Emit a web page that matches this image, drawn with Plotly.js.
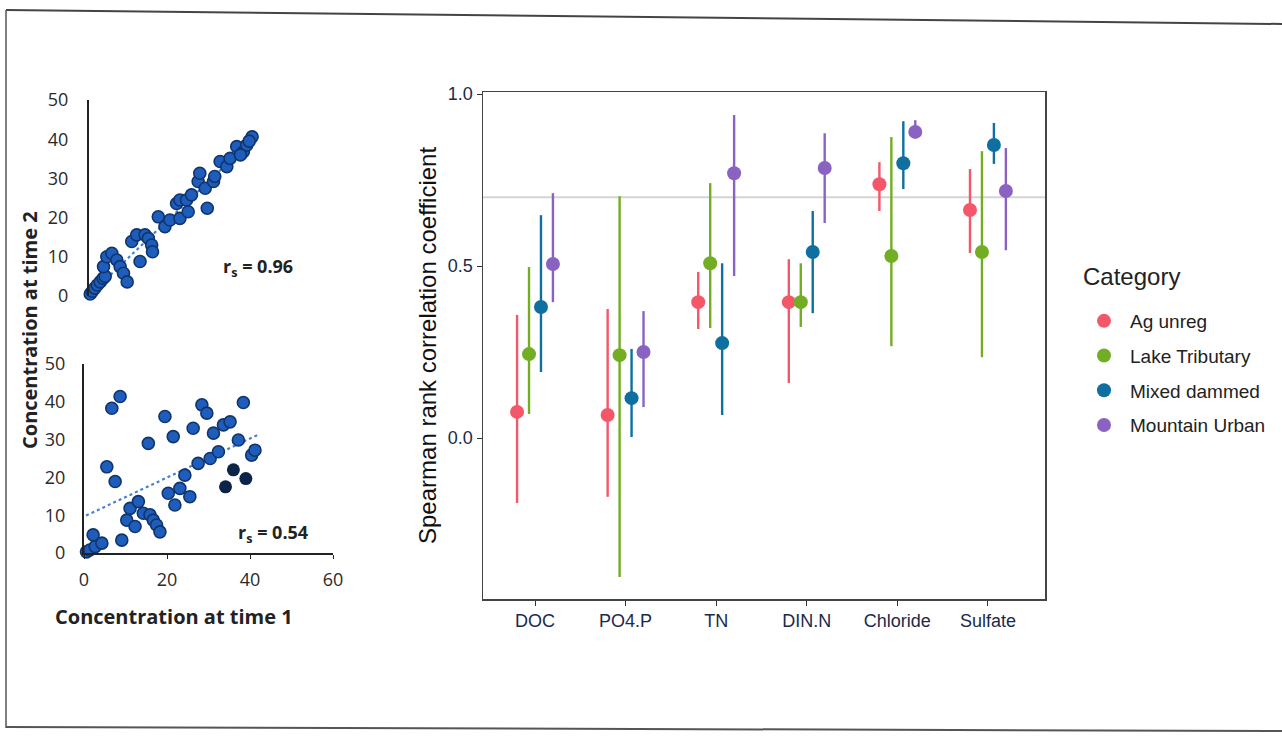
<!DOCTYPE html>
<html>
<head>
<meta charset="utf-8">
<script src="https://cdn.plot.ly/plotly-3.0.1.min.js"></script>
<style>html,body{margin:0;padding:0;background:#fff;}#chart{width:1282px;height:736px;}</style>
</head>
<body>
<div id="chart"></div>
<script>
// ---------- Left panels: concentration at time 1 vs time 2 ----------
const topX = [0.3,0.8,1.4,2.0,2.7,3.4,3.9,3.5,4.3,5.5,6.7,7.5,8.3,9.2,12.3,10.3,11.5,13.5,14.3,15.1,15.3,16.7,18.3,19.5,21.1,21.9,23.5,24.7,21.9,23.9,28.5,26.3,26.7,28.0,30.0,30.3,31.6,33.2,34.0,35.6,37.2,38.0,39.3,36.5,38.6];
const topY = [0.5,1.2,2.0,2.8,3.6,4.5,5.0,7.5,10.0,10.9,9.2,7.5,5.8,3.6,8.8,13.9,15.6,15.6,14.7,13.0,11.3,20.2,17.7,19.4,23.6,24.5,24.5,25.8,19.8,21.5,22.4,29.2,31.3,27.5,29.2,30.5,34.3,33.0,35.1,38.1,36.8,38.5,40.6,36.0,39.5];
const topTrendX = [1.0, 39.0];
const topTrendY = [1.2, 39.5];
const topRs = 'r<sub>s</sub> = 0.96';

const botX = [0.6,1.4,2.7,4.3,2.2,9.1,10.3,12.3,11.1,13.1,14.3,15.9,16.7,17.5,18.3,5.5,7.5,6.7,8.7,15.5,19.5,21.5,20.3,21.9,23.1,25.5,24.3,26.3,27.5,28.4,29.6,30.4,31.2,32.4,33.6,35.2,37.2,38.4,40.4,41.2];
const botY = [0.3,0.8,1.7,2.6,4.8,3.4,8.7,7.0,11.8,13.6,10.5,10.1,8.7,7.4,5.6,22.8,18.9,38.3,41.4,29.0,36.1,30.8,15.8,12.7,17.1,14.9,20.6,33.0,23.7,39.2,37.0,25.0,31.7,26.8,33.9,34.7,29.9,39.8,25.9,27.2];
const botDarkX = [36.0, 39.0, 34.1];
const botDarkY = [22.0, 19.7, 17.5];
const botTrendX = [0.5, 42.0];
const botTrendY = [9.9, 31.3];
const botRs = 'r<sub>s</sub> = 0.54';
const leftTicksY = [0,10,20,30,40,50];
const leftTicksX = [0,20,40,60];

// ---------- Right panel: Spearman rank correlation by category ----------
const categories = ['DOC','PO4.P','TN','DIN.N','Chloride','Sulfate'];
const seriesNames = ['Ag unreg','Lake Tributary','Mixed dammed','Mountain Urban'];
const agEst   = [0.076, 0.067, 0.395, 0.395, 0.738, 0.663];
const agLow   = [-0.189,-0.171,0.317, 0.160, 0.660, 0.538];
const agHigh  = [0.358, 0.375, 0.483, 0.520, 0.802, 0.782];
const lakeEst = [0.244, 0.241, 0.508, 0.395, 0.529, 0.541];
const lakeLow = [0.070,-0.404, 0.320, 0.323, 0.267, 0.235];
const lakeHigh= [0.497, 0.703, 0.741, 0.508, 0.875, 0.834];
const mixEst  = [0.381, 0.116, 0.276, 0.541, 0.799, 0.852];
const mixLow  = [0.192, 0.003, 0.067, 0.363, 0.724, 0.797];
const mixHigh = [0.648, 0.259, 0.508, 0.660, 0.921, 0.916];
const mtnEst  = [0.506, 0.250, 0.770, 0.785, 0.890, 0.718];
const mtnLow  = [0.395, 0.090, 0.471, 0.625, 0.875, 0.546];
const mtnHigh = [0.712, 0.369, 0.939, 0.886, 0.924, 0.843];
const refLine = 0.7;
const yTickVals = [0, 0.5, 1.0];
const yTickText = ['0.0','0.5','1.0'];
const legendTitle = 'Category';

const seriesColors = ['#F4566A','#73AD23','#0F6FA0','#8A63C2'];
const ests = [agEst, lakeEst, mixEst, mtnEst];
const lows = [agLow, lakeLow, mixLow, mtnLow];
const highs = [agHigh, lakeHigh, mixHigh, mtnHigh];
const dodge = 0.132;

const W = 1282, H = 736;
const px = v => v / W;
const py = v => 1 - v / H;

const traces = [];
const ptMarker = {size: 12, color: '#1f5dbd', line: {color: '#10356b', width: 1.6}};

traces.push({x: topTrendX, y: topTrendY, xaxis: 'x', yaxis: 'y', mode: 'lines',
  line: {color: '#4a7fd0', width: 2.2, dash: 'dot'}, showlegend: false, hoverinfo: 'skip'});
traces.push({x: topX, y: topY, xaxis: 'x', yaxis: 'y', mode: 'markers', marker: ptMarker,
  showlegend: false, cliponaxis: false});

traces.push({x: botTrendX, y: botTrendY, xaxis: 'x2', yaxis: 'y2', mode: 'lines',
  line: {color: '#4a7fd0', width: 2.2, dash: 'dot'}, showlegend: false, hoverinfo: 'skip'});
traces.push({x: botX, y: botY, xaxis: 'x2', yaxis: 'y2', mode: 'markers', marker: ptMarker,
  showlegend: false, cliponaxis: false});
traces.push({x: botDarkX, y: botDarkY, xaxis: 'x2', yaxis: 'y2', mode: 'markers',
  marker: {size: 13, color: '#0b2447'}, showlegend: false, cliponaxis: false});

seriesNames.forEach((name, s) => {
  const off = (s - 1.5) * dodge;
  traces.push({
    x: categories.map((c, i) => i + off),
    y: ests[s],
    xaxis: 'x3', yaxis: 'y3',
    mode: 'markers',
    name: name,
    legendgroup: name,
    marker: {size: 14, color: seriesColors[s]},
    error_y: {type: 'data', symmetric: false,
      array: ests[s].map((v, i) => highs[s][i] - v),
      arrayminus: ests[s].map((v, i) => v - lows[s][i]),
      color: seriesColors[s], thickness: 2.4, width: 0},
    cliponaxis: false
  });
});

const leftFont = {family: 'Open Sans, Liberation Sans, sans-serif', size: 18, color: '#2a2a2a'};
const rightFont = {family: 'Liberation Sans, Arial, sans-serif', size: 18, color: '#1b2a4a'};

const layout = {
  width: W, height: H,
  margin: {l: 0, r: 0, t: 0, b: 0},
  paper_bgcolor: '#ffffff', plot_bgcolor: 'rgba(0,0,0,0)',
  showlegend: true,
  xaxis: {domain: [px(89), px(338)], range: [0, 60], visible: false, anchor: 'y'},
  yaxis: {domain: [py(296), py(100)], range: [0, 50], anchor: 'x', showgrid: false, zeroline: false,
    showline: true, linecolor: '#222', linewidth: 2, ticks: '', tickvals: leftTicksY,
    tickfont: leftFont, ticklabelstandoff: 15},
  xaxis2: {domain: [px(84), px(333)], range: [0, 60], anchor: 'y2', showgrid: false, zeroline: false,
    showline: true, linecolor: '#222', linewidth: 2, ticks: 'outside', ticklen: 4, tickcolor: '#222',
    tickvals: leftTicksX, tickfont: leftFont, ticklabelstandoff: 5},
  yaxis2: {domain: [py(553), py(364)], range: [0, 50], anchor: 'x2', showgrid: false, zeroline: false,
    showline: true, linecolor: '#222', linewidth: 2, ticks: '', tickvals: leftTicksY,
    tickfont: leftFont, ticklabelstandoff: 13},
  xaxis3: {domain: [px(483), px(1045)], range: [-0.574, 5.63], anchor: 'y3', showgrid: false, zeroline: false,
    showline: true, mirror: true, linecolor: '#444', linewidth: 1.5, ticks: 'outside', ticklen: 5,
    tickcolor: '#333', tickvals: categories.map((c, i) => i), ticktext: categories, tickfont: rightFont},
  yaxis3: {domain: [py(599), py(92)], range: [-0.468, 1.006], anchor: 'x3', showgrid: false, zeroline: false,
    showline: true, mirror: true, linecolor: '#444', linewidth: 1.5, ticks: 'outside', ticklen: 5,
    tickcolor: '#333', tickvals: yTickVals, ticktext: yTickText, tickfont: rightFont},
  legend: {x: px(1078), y: py(302), xanchor: 'left', yanchor: 'top', traceorder: 'grouped',
    tracegroupgap: 7, itemwidth: 42, bgcolor: 'rgba(0,0,0,0)',
    font: {family: 'Liberation Sans, Arial, sans-serif', size: 19, color: '#222'}},
  shapes: [
    {type: 'line', xref: 'x3 domain', yref: 'y3', x0: 0, x1: 1, y0: refLine, y1: refLine,
      line: {color: '#d4d4d4', width: 2}, layer: 'below'},
    {type: 'line', xref: 'paper', yref: 'paper', x0: px(6), x1: 1, y0: py(10), y1: py(24),
      line: {color: '#444', width: 2}},
    {type: 'line', xref: 'paper', yref: 'paper', x0: px(6), x1: px(6), y0: py(10), y1: py(728),
      line: {color: '#555', width: 1.5}},
    {type: 'line', xref: 'paper', yref: 'paper', x0: px(6), x1: 1, y0: py(727), y1: py(731),
      line: {color: '#555', width: 2}}
  ],
  annotations: [
    {text: legendTitle, xref: 'paper', yref: 'paper', x: px(1081), y: py(277), xanchor: 'left', yanchor: 'middle',
      showarrow: false, font: {family: 'Liberation Sans, Arial, sans-serif', size: 24, color: '#222'}},
    {text: topRs, xref: 'paper', yref: 'paper', x: px(221), y: py(267), xanchor: 'left', yanchor: 'middle',
      showarrow: false, font: {family: 'Open Sans, sans-serif', size: 18, color: '#222', weight: 'bold'}},
    {text: botRs, xref: 'paper', yref: 'paper', x: px(236), y: py(533), xanchor: 'left', yanchor: 'middle',
      showarrow: false, font: {family: 'Open Sans, sans-serif', size: 18, color: '#222', weight: 'bold'}},
    {text: '<b>Concentration at time 1</b>', xref: 'paper', yref: 'paper', x: px(174), y: py(616),
      xanchor: 'center', yanchor: 'middle', showarrow: false,
      font: {family: 'Open Sans, sans-serif', size: 20, color: '#222'}},
    {text: '<b>Concentration at time 2</b>', xref: 'paper', yref: 'paper', x: px(29), y: py(330),
      xanchor: 'center', yanchor: 'middle', textangle: -90, showarrow: false,
      font: {family: 'Open Sans, sans-serif', size: 20, color: '#222'}},
    {text: 'Spearman rank correlation coefficient', xref: 'paper', yref: 'paper', x: px(428), y: py(346),
      xanchor: 'center', yanchor: 'middle', textangle: -90, showarrow: false,
      font: {family: 'Liberation Sans, Arial, sans-serif', size: 24, color: '#111'}}
  ]
};

Plotly.newPlot('chart', traces, layout, {displayModeBar: false, staticPlot: true});
</script>
</body>
</html>
